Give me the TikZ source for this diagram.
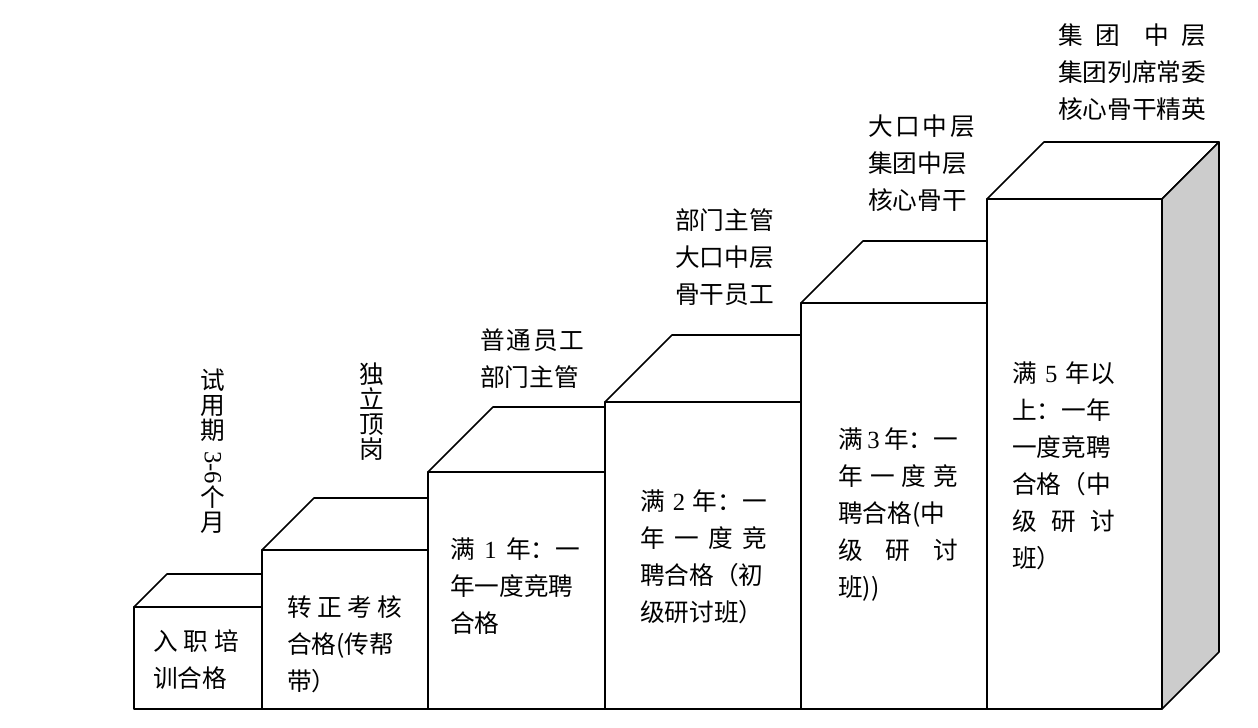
\documentclass[tikz,border=0pt]{standalone}
\usepackage{fontspec}
\setmainfont{Noto Sans CJK SC}
\newfontfamily\lat{Liberation Serif}
\newcommand{\nm}[1]{{\lat #1}}
\newcommand{\jl}[1]{\makebox[\hsize][s]{\spaceskip=0pt plus 1fil\relax #1}}
\tikzset{
  stepline/.style={line width=1.2pt},
  boxtext/.style={anchor=north west,inner sep=0pt,align=left,font=\fontsize{18.5}{27.75}\selectfont},
  vtext/.style={anchor=north,inner sep=0pt,align=center,font=\fontsize{18.5}{18.75}\selectfont}
}
\begin{document}
\begin{tikzpicture}[line cap=round,line join=round,x=0.75pt,y=-0.75pt]
\useasboundingbox (0,0) rectangle (1258,728);
% step 1
\filldraw [stepline,fill=white] (134,607)-- (167,574)-- (295,574)-- (262,607)-- cycle;
\filldraw [stepline,fill=white] (262,607)-- (295,574)-- (295,676)-- (262,709)-- cycle;
\filldraw [stepline,fill=white] (134,607) rectangle (262,709);
% step 2
\filldraw [stepline,fill=white] (262,550)-- (314,498)-- (480,498)-- (428,550)-- cycle;
\filldraw [stepline,fill=white] (428,550)-- (480,498)-- (480,657)-- (428,709)-- cycle;
\filldraw [stepline,fill=white] (262,550) rectangle (428,709);
% step 3
\filldraw [stepline,fill=white] (428,472)-- (493,407)-- (670,407)-- (605,472)-- cycle;
\filldraw [stepline,fill=white] (605,472)-- (670,407)-- (670,644)-- (605,709)-- cycle;
\filldraw [stepline,fill=white] (428,472) rectangle (605,709);
% step 4
\filldraw [stepline,fill=white] (605,402)-- (672,335)-- (868,335)-- (801,402)-- cycle;
\filldraw [stepline,fill=white] (801,402)-- (868,335)-- (868,642)-- (801,709)-- cycle;
\filldraw [stepline,fill=white] (605,402) rectangle (801,709);
% step 5
\filldraw [stepline,fill=white] (801,303)-- (863,241)-- (1049,241)-- (987,303)-- cycle;
\filldraw [stepline,fill=white] (987,303)-- (1049,241)-- (1049,647)-- (987,709)-- cycle;
\filldraw [stepline,fill=white] (801,303) rectangle (987,709);
% step 6
\filldraw [stepline,fill=white] (987,199)-- (1044,142)-- (1219,142)-- (1162,199)-- cycle;
\filldraw [stepline,fill=black!20] (1162,199)-- (1219,142)-- (1219,652)-- (1162,709)-- cycle;
\filldraw [stepline,fill=white] (987,199) rectangle (1162,709);
% labels above
\node [vtext] (trial) at (213,369) {试\\用\\期\\\raisebox{0.55em}{\rotatebox{-90}{\nm{3-6}}}\\个\\月};
\node [vtext] (solo) at (372,363) {独\\立\\顶\\岗};
\node [boxtext,text width=78pt] (staff) at (480,328) {\jl{普 通 员 工}\\部门主管};
\node [boxtext] (backbone) at (675,208) {部门主管\\大口中层\\骨干员工};
\node [boxtext,text width=80pt] (middle) at (868,115) {\jl{大 口 中 层}\\集团中层\\核心骨干};
\node [boxtext,text width=111pt] (elite) at (1058,23) {\jl{集 团\ \ 中 层}\\集团列席常委\\核心骨干精英};
% labels in the steps
\node [boxtext,text width=64.5pt] (entry) at (153,629) {\jl{入 职 培}\\训合格};
\node [boxtext,text width=86pt] (regular) at (287,595) {\jl{转 正 考 核}\\合格(传帮\\带）};
\node [boxtext,text width=97.5pt] (year1) at (450,537) {\jl{满 \nm{1} 年：一}\\年一度竞聘\\合格};
\node [boxtext,text width=95pt] (year2) at (640,489) {\jl{满 \nm{2} 年：一}\\\jl{年 一 度 竞}\\聘合格（初\\级研讨班）};
\node [boxtext,text width=90pt] (year3) at (838,427) {\jl{满 \nm{3} 年：一}\\\jl{年 一 度 竞}\\聘合格(中\\\jl{级 研 讨}\\班))};
\node [boxtext,text width=77pt] (year5) at (1012,361) {\jl{满 \nm{5} 年以}\\上：一年\\一度竞聘\\合格（中\\\jl{级 研 讨}\\班）};
\end{tikzpicture}
\end{document}
